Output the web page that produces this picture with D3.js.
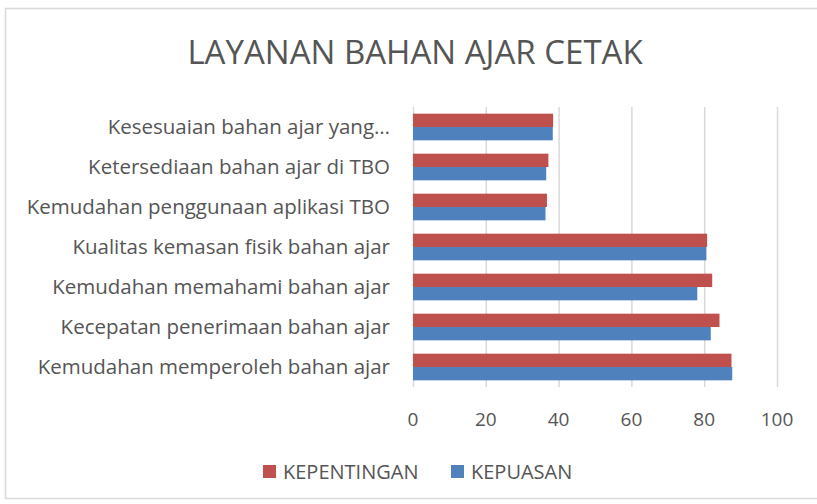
<!DOCTYPE html>
<html>
<head>
<meta charset="utf-8">
<script src="https://cdn.jsdelivr.net/npm/d3@7"></script>
<style>
  body { margin: 0; background: #fff; }
  svg text { font-family: "Open Sans", "Liberation Sans", sans-serif; fill: #555; }
</style>
</head>
<body>
<div id="chart"></div>
<script>
// categories listed bottom to top, as in the original sheet
var categories = [
  "Kemudahan memperoleh bahan ajar",
  "Kecepatan penerimaan bahan ajar",
  "Kemudahan memahami bahan ajar",
  "Kualitas kemasan fisik bahan ajar",
  "Kemudahan penggunaan aplikasi TBO",
  "Ketersediaan bahan ajar di TBO",
  "Kesesuaian bahan ajar yang\u2026"
];
var kepentingan = [87.5, 84.2, 82.2, 80.8, 36.8, 37.2, 38.5];
var kepuasan = [87.7, 81.8, 78.1, 80.6, 36.4, 36.6, 38.4];
var seriesNames = ["KEPENTINGAN", "KEPUASAN"];
var seriesColors = ["#C0504D", "#4F81BD"];
var xTicks = [0, 20, 40, 60, 80, 100];

var width = 817, height = 504;
var svg = d3.select("#chart").append("svg")
  .attr("width", width)
  .attr("height", height);

// chart frame
svg.append("rect")
  .attr("x", 5.5).attr("y", 8.5)
  .attr("width", 830).attr("height", 490)
  .attr("fill", "#fff")
  .attr("stroke", "#d9d9d9")
  .attr("stroke-width", 1.5);

svg.append("text")
  .attr("x", 415).attr("y", 64)
  .attr("text-anchor", "middle")
  .style("font-size", "33px")
  .text("LAYANAN BAHAN AJAR CETAK");

var x = d3.scaleLinear().domain([0, 100]).range([413, 777]);
var y = d3.scaleBand()
  .domain(categories.slice().reverse())
  .range([107, 387]);
var inner = d3.scaleBand()
  .domain(seriesNames)
  .range([0, y.bandwidth()])
  .paddingOuter(0.5)
  .paddingInner(0);

// gridlines
svg.append("g")
  .selectAll("line")
  .data(xTicks)
  .enter().append("line")
    .attr("x1", function (d) { return x(d) + 0.5; })
    .attr("x2", function (d) { return x(d) + 0.5; })
    .attr("y1", 107)
    .attr("y2", 387)
    .attr("stroke", "#d9d9d9")
    .attr("stroke-width", 1.5);

var rows = categories.map(function (c, i) {
  return { cat: c, vals: [kepentingan[i], kepuasan[i]] };
});

var groups = svg.append("g")
  .selectAll("g")
  .data(rows)
  .enter().append("g")
    .attr("transform", function (d) { return "translate(0," + y(d.cat) + ")"; });

groups.selectAll("rect")
  .data(function (d) {
    return d.vals.map(function (v, j) { return { name: seriesNames[j], value: v, color: seriesColors[j] }; });
  })
  .enter().append("rect")
    .attr("x", x(0))
    .attr("y", function (d) { return inner(d.name); })
    .attr("width", function (d) { return x(d.value) - x(0); })
    .attr("height", inner.bandwidth())
    .attr("fill", function (d) { return d.color; });

// category labels
svg.append("g")
  .selectAll("text")
  .data(categories)
  .enter().append("text")
    .attr("x", 390)
    .attr("y", function (d) { return y(d) + y.bandwidth() / 2; })
    .attr("dy", "0.35em")
    .attr("text-anchor", "end")
    .style("font-size", "20.5px")
    .text(function (d) { return d; });

// value axis labels
svg.append("g")
  .selectAll("text")
  .data(xTicks)
  .enter().append("text")
    .attr("x", function (d) { return x(d); })
    .attr("y", 419)
    .attr("dy", "0.35em")
    .attr("text-anchor", "middle")
    .style("font-size", "19px")
    .text(function (d) { return d; });

// legend
var legendX = [263, 451];
var legend = svg.append("g")
  .selectAll("g")
  .data(seriesNames)
  .enter().append("g")
    .attr("transform", function (d, i) { return "translate(" + legendX[i] + ",465)"; });
legend.append("rect")
  .attr("width", 13).attr("height", 13)
  .attr("fill", function (d, i) { return seriesColors[i]; });
legend.append("text")
  .attr("x", 20).attr("y", 7)
  .attr("dy", "0.35em")
  .style("font-size", "20px")
  .text(function (d) { return d; });
</script>
</body>
</html>
